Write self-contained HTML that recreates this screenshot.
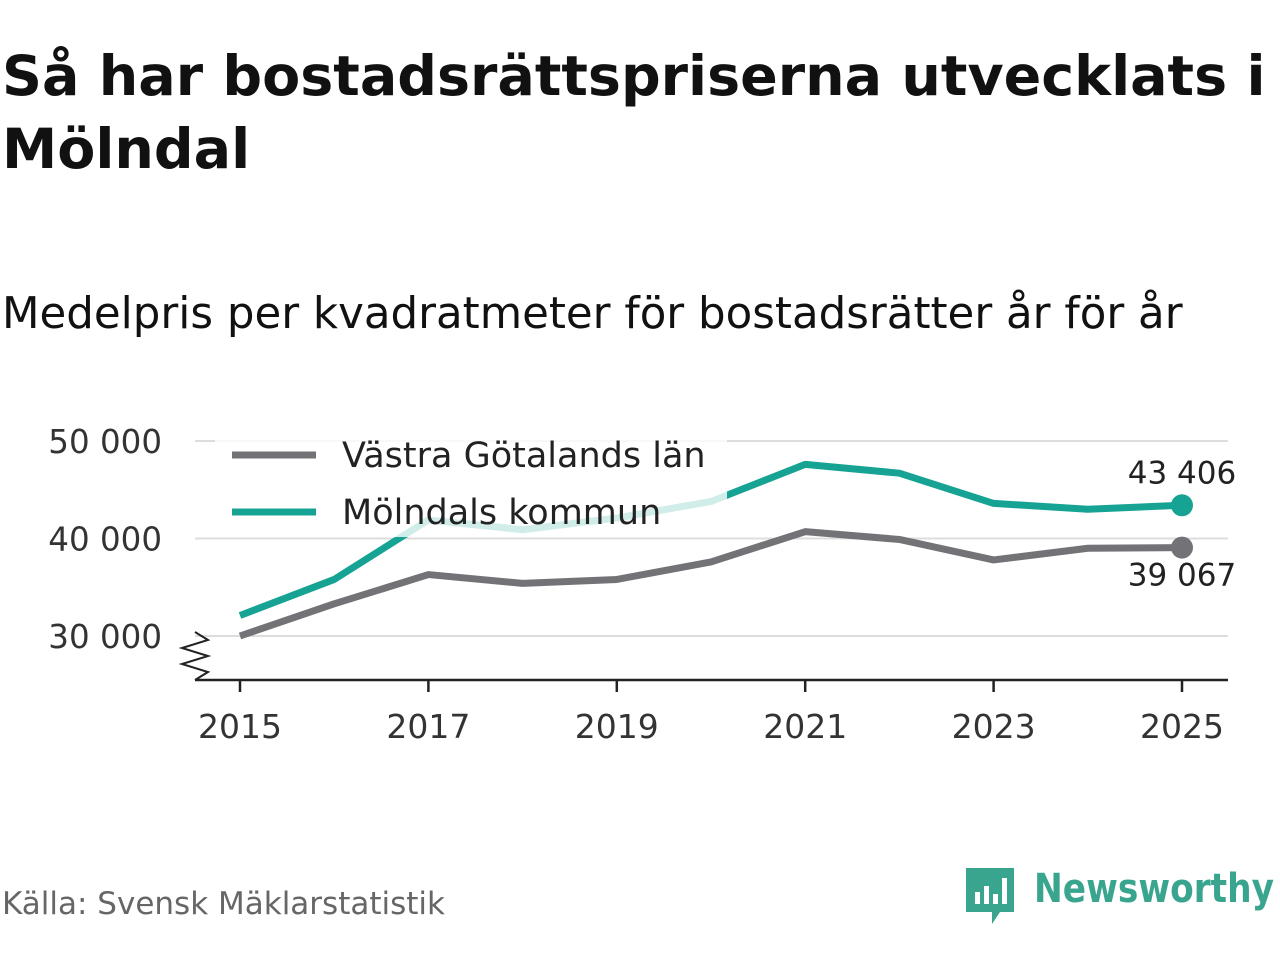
<!DOCTYPE html>
<html><head><meta charset="utf-8"><style>
body{margin:0;width:1280px;height:960px;background:#fff;font-family:"DejaVu Sans","Liberation Sans",sans-serif;overflow:hidden;position:relative}
h1{position:absolute;left:2px;top:40px;margin:0;font-size:55.5px;line-height:73px;font-weight:bold;color:#111;white-space:nowrap}
.sub{position:absolute;left:2px;top:289px;font-size:43.5px;color:#111;white-space:nowrap}
.src{position:absolute;left:2px;top:886px;font-size:31px;color:#666}
.logo{position:absolute;left:966px;top:862px}
</style></head><body>
<h1>Så har bostadsrättspriserna utvecklats i<br>Mölndal</h1>
<div class="sub">Medelpris per kvadratmeter för bostadsrätter år för år</div>
<svg id="chart" width="1280" height="960" style="position:absolute;left:0;top:0"></svg>
<div class="src">Källa: Svensk Mäklarstatistik</div>
<div class="logo">
<svg width="314" height="66"><path d="M0 6h48v44H34l-8 12v-12H0z" fill="#3aa58f"/><rect x="9" y="30" width="5" height="12" fill="#fff"/><rect x="18" y="24" width="5" height="18" fill="#fff"/><rect x="27" y="32" width="5" height="10" fill="#fff"/><rect x="36" y="16" width="5" height="26" fill="#fff"/>
<text x="68" y="40" font-size="40" font-weight="bold" fill="#3aa58f" font-family="DejaVu Sans, sans-serif" textLength="240" lengthAdjust="spacingAndGlyphs">Newsworthy</text></svg></div>
<script>
const years=[2015,2016,2017,2018,2019,2020,2021,2022,2023,2024,2025];
const vgl=[30000,33300,36300,35400,35800,37600,40700,39900,37800,39000,39067];
const mol=[32100,35800,41900,40900,42100,43800,47600,46700,43600,43000,43406];
const yTicks=[30000,40000,50000];
const xTicks=[2015,2017,2019,2021,2023,2025];
const NS="http://www.w3.org/2000/svg",svg=document.getElementById('chart');
const x=v=>240+(v-2015)*94.2, y=v=>636-(v-30000)*0.00975;
function el(t,a,p){const e=document.createElementNS(NS,t);for(const k in a)e.setAttribute(k,a[k]);(p||svg).appendChild(e);return e;}
const fmt=v=>String(Math.round(v)).replace(/\B(?=(\d{3})+(?!\d))/g,' ');
yTicks.forEach(t=>{const g=el('line',{x1:195,x2:1228,y1:y(t),y2:y(t),stroke:'#ddd','stroke-width':2});

const tx=el('text',{x:162,y:y(t)+12,'text-anchor':'end','font-size':32.5,fill:'#333'});tx.textContent=fmt(t);
});
const ax=el('line',{x1:195,x2:1228,y1:680,y2:680,stroke:'#222','stroke-width':2.5});

const br=el('path',{d:'M195 632 L208 640 L182 648 L208 656 L182 664 L208 672 L195 680',fill:'none',stroke:'#222','stroke-width':2});

xTicks.forEach(t=>{const l=el('line',{x1:x(t),x2:x(t),y1:680,y2:692,stroke:'#222','stroke-width':2.5});

const tx=el('text',{x:x(t),y:738,'text-anchor':'middle','font-size':33,fill:'#333'});tx.textContent=t;
});
function series(vals,col,name){const p=el('polyline',{points:vals.map((v,i)=>x(years[i])+','+y(v)).join(' '),fill:'none',stroke:col,'stroke-width':7,'stroke-linejoin':'round'});

const c=el('circle',{cx:x(years[years.length-1]),cy:y(vals[vals.length-1]),r:11,fill:col});
}
series(vgl,'#737277','series-vastra-gotaland');
series(mol,'#16a394','series-molndal');
const l1=el('text',{x:1182,y:y(mol[10])-22,'text-anchor':'middle','font-size':31,fill:'#222'});l1.textContent=fmt(mol[10]);

const l2=el('text',{x:1182,y:y(vgl[10])+38,'text-anchor':'middle','font-size':31,fill:'#222'});l2.textContent=fmt(vgl[10]);

const bg=el('rect',{x:215,y:425,width:512,height:112,fill:'#fff','fill-opacity':0.8});

[['Västra Götalands län','#737277',455],['Mölndals kommun','#16a394',512]].forEach(([n,c,yy])=>{
const ln=el('line',{x1:232,x2:316,y1:yy,y2:yy,stroke:c,'stroke-width':7});
const t=el('text',{x:342,y:yy+12,'font-size':35,fill:'#222'});t.textContent=n;});
</script>
</body></html>
